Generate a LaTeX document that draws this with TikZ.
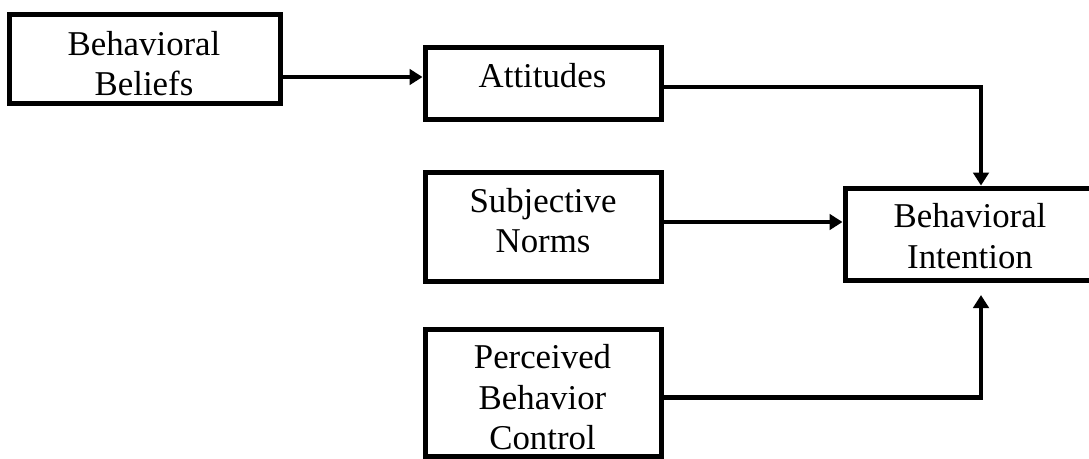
\documentclass[tikz,border=0pt]{standalone}
\usepackage{fontspec}
\setmainfont{Liberation Serif}
\usetikzlibrary{arrows.meta}
\begin{document}
\begin{tikzpicture}[x=1pt,y=-1pt,
  box/.style={draw=black, line width=5pt, rectangle, inner sep=0pt},
  txt/.style={align=center, inner sep=0pt, font=\fontsize{34.8pt}{40.5pt}\selectfont},
  arr/.style={line width=4.8pt, -{Triangle[length=13pt 0, width=15.5pt 0]}}]
\useasboundingbox (0,0) rectangle (1089,458);
\clip (0,0) rectangle (1089,458);
% boxes
\node[box, minimum width=270.5pt, minimum height=89pt] (bb) at (145,58.5) {};
\node[box, minimum width=236pt, minimum height=72pt] (att) at (543,83) {};
\node[box, minimum width=236.5pt, minimum height=109pt] (subj) at (543.3,226.5) {};
\node[box, minimum width=250pt, minimum height=92.5pt] (int) at (970,234.3) {};
\node[box, minimum width=235.5pt, minimum height=126.7pt] (pbc) at (543.3,392.7) {};
% texts
\node[txt] (bbt) at (144,63.5) {Behavioral\\Beliefs};
\node[txt] (attt) at (542.5,75.5) {Attitudes};
\node[txt] (subjt) at (543,220.5) {Subjective\\Norms};
\node[txt] (intt) at (970,236) {Behavioral\\Intention};
\node[txt] (pbct) at (542.5,397.5) {Perceived\\Behavior\\Control};
% connectors
\draw[arr] ([yshift=-18.5pt]bb.east) -- ([yshift=-18.5pt]bb.east -| att.west);
\draw[arr] ([yshift=-4pt]att.east) -| ([xshift=11pt]int.north);
\draw[arr] ([yshift=4.5pt]subj.east) -- ([yshift=4.5pt]subj.east -| int.west);
\draw[arr] ([yshift=-4.5pt]pbc.east) -| ([xshift=11pt,yshift=-12pt]int.south);
\end{tikzpicture}
\end{document}
